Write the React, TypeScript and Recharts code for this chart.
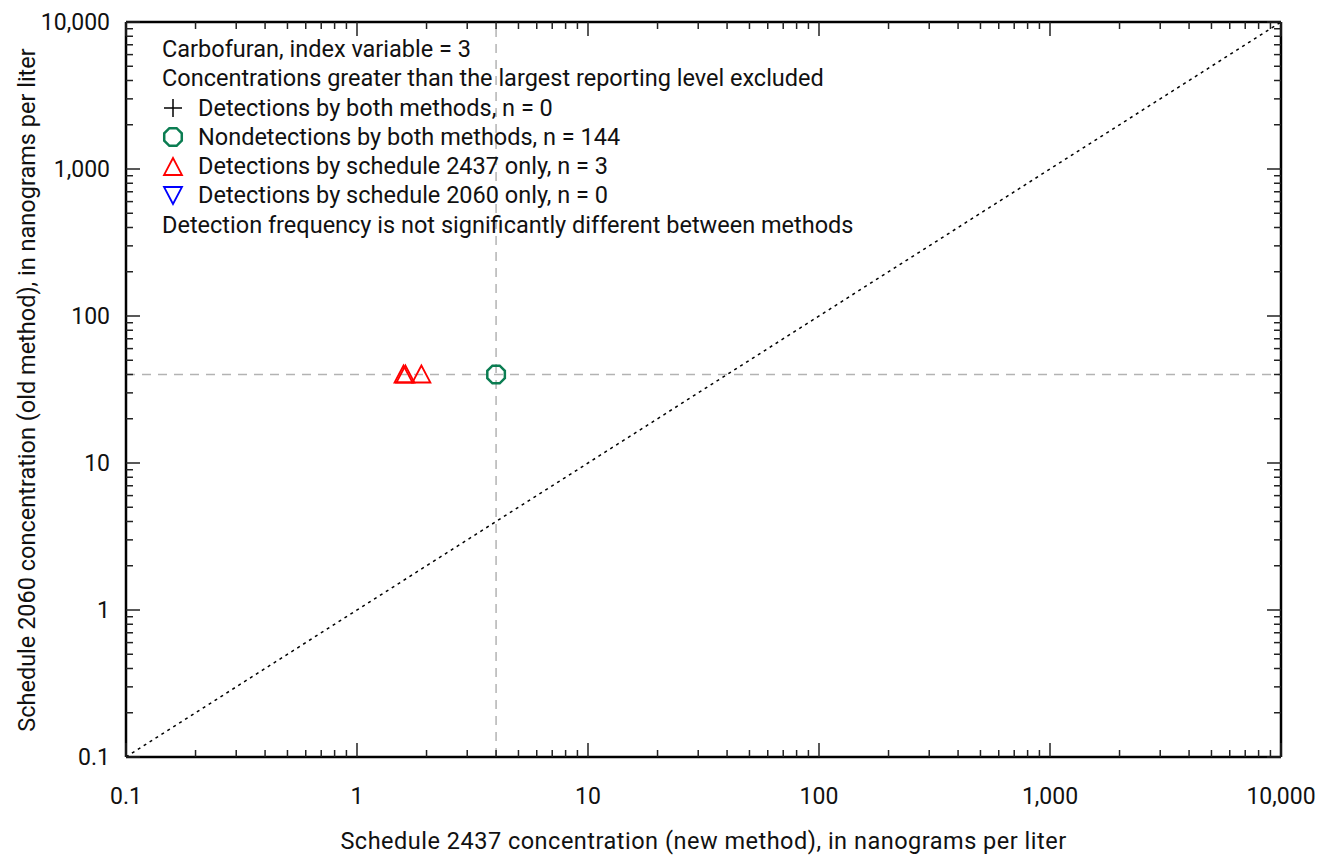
import React from 'react';
import { ScatterChart, Scatter, XAxis, YAxis, ReferenceLine } from 'recharts';

// log axis decades (labelled) and the 2..9 minor marks in between
const decadeTicks = [0.1, 1, 10, 100, 1000, 10000];
const decadeLabels = ['0.1', '1', '10', '100', '1,000', '10,000'];
const minorSteps = [2, 3, 4, 5, 6, 7, 8, 9];
const minorTicks = decadeTicks.slice(0, -1).flatMap((d) => minorSteps.map((m) => +(d * m).toPrecision(3)));
const allTicks = [...decadeTicks, ...minorTicks].sort((a, b) => a - b);

// reporting levels (dashed gray guides)
const newMethodLevel = 4;
const oldMethodLevel = 40;

// points: x = schedule 2437 (new), y = schedule 2060 (old)
const detectedBoth: { x: number; y: number }[] = [];
const nondetectedBoth = [{ x: 4, y: 40 }];
const detected2437Only = [
  { x: 1.59, y: 40 },
  { x: 1.62, y: 40 },
  { x: 1.9, y: 40 },
];
const detected2060Only: { x: number; y: number }[] = [];

const legendLines = [
  { symbol: null, text: 'Carbofuran, index variable = 3' },
  { symbol: null, text: 'Concentrations greater than the largest reporting level excluded' },
  { symbol: 'plus', text: `Detections by both methods, n = ${detectedBoth.length}` },
  { symbol: 'octagon', text: 'Nondetections by both methods,  n = 144' },
  { symbol: 'up', text: `Detections by schedule 2437 only, n = ${detected2437Only.length}` },
  { symbol: 'down', text: `Detections by schedule 2060 only,  n = ${detected2060Only.length}` },
  { symbol: null, text: 'Detection frequency is not significantly different between methods' },
];

const FONT = 'Roboto, "DejaVu Sans", sans-serif';
const GREEN = '#0b7d52';
const W = 1329;
const H = 856;

const octagonPoints = (cx: number, cy: number, r: number) =>
  Array.from({ length: 8 }, (_, i) => {
    const a = (Math.PI / 8) * (2 * i + 1);
    return `${cx + r * Math.cos(a)},${cy + r * Math.sin(a)}`;
  }).join(' ');

const Octagon = (props: any) => (
  <polygon points={octagonPoints(props.cx, props.cy, 9.5)} fill="none" stroke={GREEN} strokeWidth={2.5} />
);
const UpTriangle = (props: any) => {
  const { cx, cy } = props;
  return <polygon points={`${cx},${cy - 9} ${cx - 9},${cy + 8} ${cx + 9},${cy + 8}`} fill="none" stroke="#ff0000" strokeWidth={1.8} />;
};
const DownTriangle = (props: any) => {
  const { cx, cy } = props;
  return <polygon points={`${cx},${cy + 9} ${cx - 9},${cy - 8} ${cx + 9},${cy - 8}`} fill="none" stroke="#0000ff" strokeWidth={1.8} />;
};
const Plus = (props: any) => {
  const { cx, cy } = props;
  return (
    <g stroke="#000" strokeWidth={1.5}>
      <line x1={cx - 9} y1={cy} x2={cx + 9} y2={cy} />
      <line x1={cx} y1={cy - 9} x2={cx} y2={cy + 9} />
    </g>
  );
};

// inward tick marks on every side; labels only bottom and left
const AxisTick = (props: any) => {
  const { x, y, payload, side } = props;
  const v = payload.value;
  const idx = decadeTicks.indexOf(v);
  const len = idx >= 0 ? 14 : 7;
  let line;
  if (side === 'bottom') line = <line x1={x} y1={y} x2={x} y2={y - len} />;
  else if (side === 'top') line = <line x1={x} y1={y} x2={x} y2={y + len} />;
  else if (side === 'left') line = <line x1={x} y1={y} x2={x + len} y2={y} />;
  else line = <line x1={x} y1={y} x2={x - len} y2={y} />;
  return (
    <g>
      <g stroke="#222" strokeWidth={1.5}>{line}</g>
      {idx >= 0 && side === 'bottom' && (
        <text x={x} y={y + 39} textAnchor="middle" dominantBaseline="central" fontSize={23} fill="#111" fontFamily={FONT}>
          {decadeLabels[idx]}
        </text>
      )}
      {idx >= 0 && side === 'left' && (
        <text x={x - 16} y={y} textAnchor="end" dominantBaseline="central" fontSize={23} fill="#111" fontFamily={FONT}>
          {decadeLabels[idx]}
        </text>
      )}
    </g>
  );
};

const axisCommon = {
  type: 'number' as const,
  scale: 'log' as const,
  domain: [0.1, 10000],
  ticks: allTicks,
  interval: 0 as const,
  tickLine: false,
  tickSize: 0,
  tickMargin: 0,
  allowDataOverflow: true,
  axisLine: { stroke: '#000', strokeWidth: 2.5 },
};

const LegendSymbol = ({ kind }: { kind: string }) => (
  <svg width={22} height={22} style={{ position: 'absolute', left: -36, top: 3 }}>
    {kind === 'plus' && <Plus cx={11} cy={11} />}
    {kind === 'octagon' && <Octagon cx={11} cy={11} />}
    {kind === 'up' && <UpTriangle cx={11} cy={12} />}
    {kind === 'down' && <DownTriangle cx={11} cy={11} />}
  </svg>
);

export default function App() {
  return (
    <div style={{ position: 'absolute', left: 0, top: 0, width: W, height: H, background: '#fff', fontFamily: FONT, color: '#111' }}>
      <ScatterChart width={W} height={H} margin={{ top: 21, right: 47, bottom: 98, left: 125 }}>
        <XAxis xAxisId="bottom" orientation="bottom" dataKey="x" height={1} {...axisCommon} tick={(p: any) => <AxisTick {...p} side="bottom" />} />
        <XAxis xAxisId="top" orientation="top" dataKey="x" height={1} {...axisCommon} tick={(p: any) => <AxisTick {...p} side="top" />} />
        <YAxis yAxisId="left" orientation="left" dataKey="y" width={1} {...axisCommon} tick={(p: any) => <AxisTick {...p} side="left" />} />
        <YAxis yAxisId="right" orientation="right" dataKey="y" width={1} {...axisCommon} tick={(p: any) => <AxisTick {...p} side="right" />} />

        <ReferenceLine xAxisId="bottom" yAxisId="left" x={newMethodLevel} stroke="#b3b3b3" strokeWidth={1.5} strokeDasharray="9 7" />
        <ReferenceLine xAxisId="bottom" yAxisId="left" y={oldMethodLevel} stroke="#b3b3b3" strokeWidth={1.5} strokeDasharray="9 7" />
        <ReferenceLine
          xAxisId="bottom"
          yAxisId="left"
          segment={[{ x: 0.1, y: 0.1 }, { x: 10000, y: 10000 }]}
          stroke="#000"
          strokeWidth={1.5}
          strokeDasharray="3 4"
        />

        <Scatter xAxisId="bottom" yAxisId="left" data={detectedBoth} shape={Plus} isAnimationActive={false} />
        <Scatter xAxisId="bottom" yAxisId="left" data={nondetectedBoth} shape={Octagon} isAnimationActive={false} />
        <Scatter xAxisId="bottom" yAxisId="left" data={detected2437Only} shape={UpTriangle} isAnimationActive={false} />
        <Scatter xAxisId="bottom" yAxisId="left" data={detected2060Only} shape={DownTriangle} isAnimationActive={false} />
      </ScatterChart>

      <div style={{ position: 'absolute', left: 162, top: 35, fontSize: 23.5, lineHeight: '29.3px', whiteSpace: 'nowrap' }}>
        {legendLines.map((l, i) => (
          <div key={i} style={{ position: 'relative', paddingLeft: l.symbol ? 36 : 0 }}>
            {l.symbol && (
              <span style={{ position: 'absolute', left: 36, top: 0 }}>
                <LegendSymbol kind={l.symbol} />
              </span>
            )}
            {l.text}
          </div>
        ))}
      </div>

      <div
        style={{
          position: 'absolute',
          left: 125,
          width: 1157,
          top: 827,
          textAlign: 'center',
          fontSize: 23.5,
          letterSpacing: 0.5,
          whiteSpace: 'nowrap',
        }}
      >
        Schedule 2437 concentration (new method), in nanograms per liter
      </div>
      <div
        style={{
          position: 'absolute',
          left: 27,
          top: 390,
          transform: 'translate(-50%, -50%) rotate(-90deg)',
          fontSize: 23.5,
          whiteSpace: 'nowrap',
        }}
      >
        Schedule 2060 concentration (old method), in nanograms per liter
      </div>
    </div>
  );
}
